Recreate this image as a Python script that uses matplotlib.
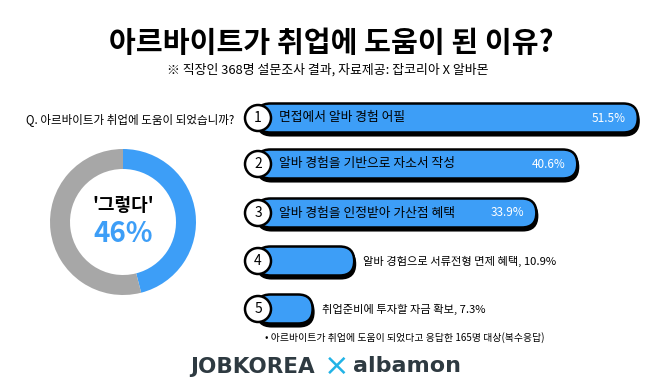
import numpy as np
import matplotlib
matplotlib.use('Agg')
import matplotlib.pyplot as plt
from matplotlib.patches import FancyBboxPatch, Circle

plt.rcParams['font.family'] = ['Noto Sans CJK KR', 'DejaVu Sans']

title = '아르바이트가 취업에 도움이 된 이유?'
subtitle = '※ 직장인 368명 설문조사 결과, 자료제공: 잡코리아 X 알바몬'
question = 'Q. 아르바이트가 취업에 도움이 되었습니까?'
yes_label = "'그렇다'"
yes_share = 46
reasons = ['면접에서 알바 경험 어필', '알바 경험을 기반으로 자소서 작성',
           '알바 경험을 인정받아 가산점 혜택', '알바 경험으로 서류전형 면제 혜택',
           '취업준비에 투자할 자금 확보']
shares = [51.5, 40.6, 33.9, 10.9, 7.3]
footnote = '• 아르바이트가 취업에 도움이 되었다고 응답한 165명 대상(복수응답)'

blue = '#3d9ef7'
gray = '#a7a7a7'
W, H = 649, 387

fig = plt.figure(figsize=(W / 100, H / 100), dpi=100)
ax = fig.add_axes([0, 0, 1, 1])
ax.set_xlim(0, W)
ax.set_ylim(H, 0)
ax.axis('off')

ax.text(331, 43, title, ha='center', va='center', fontsize=21, fontweight='bold')
ax.text(328, 70, subtitle, ha='center', va='center', fontsize=9.3)
ax.text(26, 120, question, ha='left', va='center', fontsize=8.3)

# donut
cx, cy, r = 123, 222, 73
dax = fig.add_axes([(cx - r) / W, (H - cy - r) / H, 2 * r / W, 2 * r / H])
dax.pie([yes_share, 100 - yes_share], colors=[blue, gray], startangle=90,
        counterclock=False, radius=1, wedgeprops=dict(width=20 / r))
dax.set_xlim(-1, 1)
dax.set_ylim(-1, 1)
dax.text(0, 0.22, yes_label, ha='center', va='center', fontsize=13, fontweight='bold')
dax.text(0, -0.17, f'{yes_share}%', ha='center', va='center', fontsize=20,
         fontweight='bold', color=blue)

# bars (lengths on a compressed scale like the original)
x0 = 256
bar_h = 29
row_y = [118, 164, 213, 261, 309]
for i, (lab, v, y) in enumerate(zip(reasons, shares, row_y)):
    end = 144 + 56.5 * v ** 0.55
    shadow = FancyBboxPatch((x0 + 1, y - bar_h / 2 + 3), end - x0, bar_h,
                            boxstyle=f'round,pad=0,rounding_size={bar_h / 2}',
                            fc='black', ec='black', lw=1.5, zorder=2)
    bar = FancyBboxPatch((x0, y - bar_h / 2), end - x0, bar_h,
                         boxstyle=f'round,pad=0,rounding_size={bar_h / 2}',
                         fc=blue, ec='black', lw=1.8, zorder=3)
    ax.add_patch(shadow)
    ax.add_patch(bar)
    ax.add_patch(Circle((258, y), 13, fc='white', ec='black', lw=1.8, zorder=4))
    ax.text(258, y, str(i + 1), ha='center', va='center', fontsize=10, zorder=5)
    if v > 20:
        ax.text(279, y, lab, ha='left', va='center', fontsize=9.2, zorder=5)
        ax.text(end - 12, y, f'{v}%', ha='right', va='center', fontsize=8.5,
                color='white', zorder=5)
    else:
        ax.text(end + 9, y, f'{lab}, {v}%', ha='left', va='center',
                fontsize=8.1, zorder=5)

ax.text(265, 338, footnote, ha='left', va='center', fontsize=7.1)

# logos
ax.text(190, 367, 'JOBKOREA', ha='left', va='center', fontsize=15.5,
        fontweight='bold', color='#2e3a41', family='DejaVu Sans')
ax.text(337, 366, '×', ha='center', va='center', fontsize=22, color='#22b3e6',
        family='DejaVu Sans')
ax.text(353, 366, 'albamon', ha='left', va='center', fontsize=16,
        fontweight='bold', color='#2e3a41', family='DejaVu Sans')

fig.savefig('out.png', dpi=100)
